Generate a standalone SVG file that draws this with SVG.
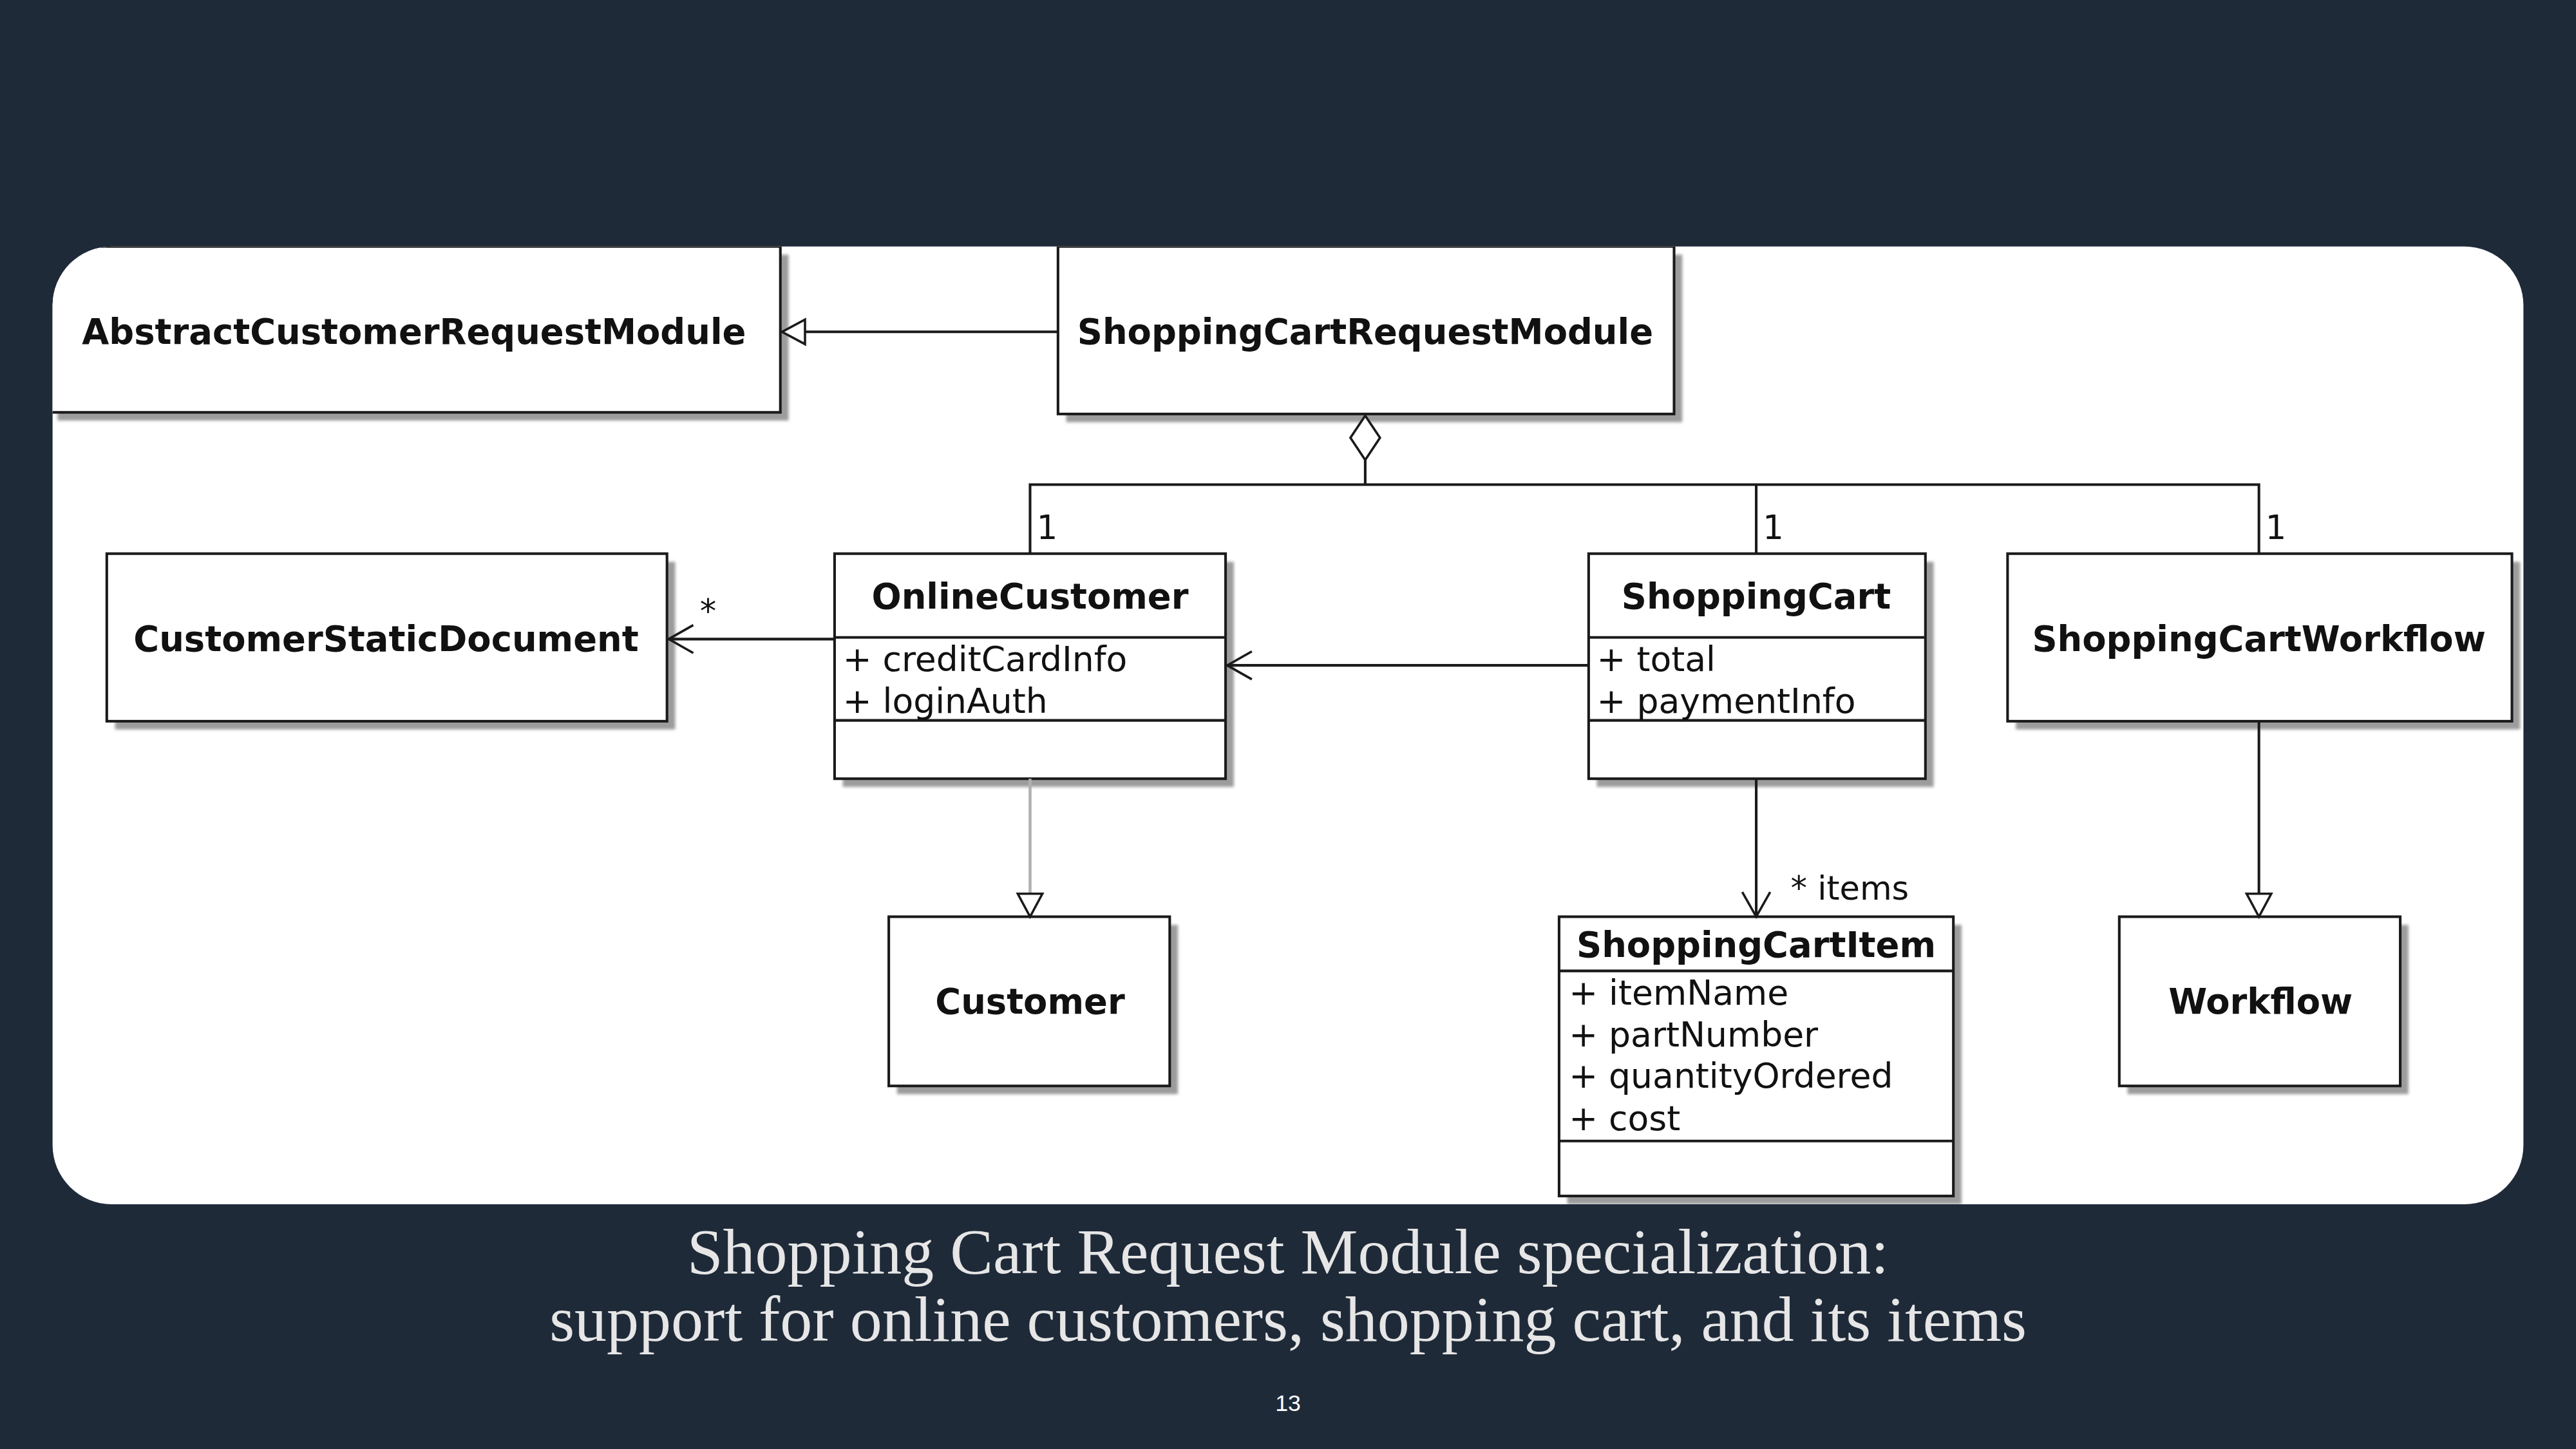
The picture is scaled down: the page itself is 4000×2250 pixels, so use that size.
<svg xmlns="http://www.w3.org/2000/svg" width="4000" height="2250" viewBox="0 0 4000 2250">
<defs>
<style>
.box{fill:#fff;stroke:#1a1a1a;stroke-width:1.6}
.div{stroke:#1a1a1a;stroke-width:1.6;fill:none}
.shadow{fill:#9c9c9c;filter:url(#blur)}
.title{font-family:"DejaVu Sans",sans-serif;font-weight:bold;font-size:21.3px;fill:#111;text-anchor:middle}
.attr{font-family:"DejaVu Sans",sans-serif;font-size:21px;fill:#111}
.lbl{font-family:"DejaVu Sans",sans-serif;font-size:20px;fill:#111}
.conn{stroke:#1a1a1a;stroke-width:1.6;fill:none}
.connLight{stroke:#b0b0b0;stroke-width:1.8;fill:none}
.head{stroke:#1a1a1a;stroke-width:1.4;fill:#fff}
.open{stroke:#1a1a1a;stroke-width:1.4;fill:none}
.cap{font-family:"Liberation Serif","Times New Roman",serif;font-size:39.2px;fill:#e6e6e6;text-anchor:middle}
.pg{font-family:"Liberation Sans",Arial,sans-serif;font-size:14px;fill:#ffffff;text-anchor:middle}
</style>
<filter id="blur" x="-5%" y="-5%" width="110%" height="110%"><feGaussianBlur stdDeviation="0.8"/></filter>
<clipPath id="panelClip"><rect x="32" y="150" width="1504" height="583" rx="36" ry="36"/></clipPath>
</defs>
<rect x="0" y="0" width="4000" height="2250" fill="#1f2a39"/>
<g transform="scale(2.55102)">
<rect x="32" y="150" width="1504" height="583" rx="36" ry="36" fill="#ffffff"/>
<g clip-path="url(#panelClip)">
<g id="AbstractCustomerRequestModule">
<rect class="shadow" x="35" y="155" width="445" height="101"/>
<rect class="box" x="30" y="150" width="445" height="101"/>
<text class="title" x="252" y="209.5">AbstractCustomerRequestModule</text>
</g>
<g id="ShoppingCartRequestModule">
<rect class="shadow" x="649" y="155" width="375" height="102"/>
<rect class="box" x="644" y="150" width="375" height="102"/>
<text class="title" x="831" y="209.5">ShoppingCartRequestModule</text>
</g>
<g id="CustomerStaticDocument">
<rect class="shadow" x="70" y="342" width="341" height="102"/>
<rect class="box" x="65" y="337" width="341" height="102"/>
<text class="title" x="235" y="396.5">CustomerStaticDocument</text>
</g>
<g id="OnlineCustomer">
<rect class="shadow" x="513" y="342" width="238" height="137"/>
<rect class="box" x="508" y="337" width="238" height="137"/>
<line class="div" x1="508" y1="388" x2="746" y2="388"/>
<line class="div" x1="508" y1="438.5" x2="746" y2="438.5"/>
<text class="title" x="627" y="370.5">OnlineCustomer</text>
<text class="attr" x="513" y="408.5">+ creditCardInfo</text>
<text class="attr" x="513" y="434">+ loginAuth</text>
</g>
<g id="ShoppingCart">
<rect class="shadow" x="972" y="342" width="205" height="137"/>
<rect class="box" x="967" y="337" width="205" height="137"/>
<line class="div" x1="967" y1="388" x2="1172" y2="388"/>
<line class="div" x1="967" y1="438.5" x2="1172" y2="438.5"/>
<text class="title" x="1069" y="370.5">ShoppingCart</text>
<text class="attr" x="972" y="408.5">+ total</text>
<text class="attr" x="972" y="434">+ paymentInfo</text>
</g>
<g id="ShoppingCartWorkflow">
<rect class="shadow" x="1227" y="342" width="307" height="102"/>
<rect class="box" x="1222" y="337" width="307" height="102"/>
<text class="title" x="1375" y="396.5">ShoppingCartWorkflow</text>
</g>
<g id="Customer">
<rect class="shadow" x="546" y="563" width="171" height="103"/>
<rect class="box" x="541" y="558" width="171" height="103"/>
<text class="title" x="627" y="617">Customer</text>
</g>
<g id="ShoppingCartItem">
<rect class="shadow" x="954" y="563" width="240" height="170"/>
<rect class="box" x="949" y="558" width="240" height="170"/>
<line class="div" x1="949" y1="591" x2="1189" y2="591"/>
<line class="div" x1="949" y1="694.5" x2="1189" y2="694.5"/>
<text class="title" x="1069" y="582.5">ShoppingCartItem</text>
<text class="attr" x="955" y="611.5">+ itemName</text>
<text class="attr" x="955" y="637">+ partNumber</text>
<text class="attr" x="955" y="662">+ quantityOrdered</text>
<text class="attr" x="955" y="688">+ cost</text>
</g>
<g id="Workflow">
<rect class="shadow" x="1295" y="563" width="171" height="103"/>
<rect class="box" x="1290" y="558" width="171" height="103"/>
<text class="title" x="1376" y="617">Workflow</text>
</g>
<g id="connectors">
<line class="conn" x1="644" y1="202" x2="490" y2="202"/>
<polygon class="head" points="476,202 490,194.5 490,209.5"/>
<polygon class="head" points="831,253 840,266.5 831,280 822,266.5"/>
<line class="conn" x1="831" y1="280" x2="831" y2="295"/>
<polyline class="conn" points="627,337 627,295 1375,295 1375,337"/>
<line class="conn" x1="1069" y1="295" x2="1069" y2="337"/>
<text class="lbl" x="631" y="328">1</text>
<text class="lbl" x="1073" y="328">1</text>
<text class="lbl" x="1379" y="328">1</text>
<line class="conn" x1="508" y1="389" x2="407" y2="389"/>
<polyline class="open" points="422,380.5 407,389 422,397.5"/>
<text class="lbl" x="431" y="379" text-anchor="middle">*</text>
<line class="conn" x1="967" y1="405" x2="747" y2="405"/>
<polyline class="open" points="762,396.5 747,405 762,413.5"/>
<line class="connLight" x1="627" y1="474" x2="627" y2="544"/>
<polygon class="head" points="627,558 619.5,544 634.5,544"/>
<line class="conn" x1="1069" y1="474" x2="1069" y2="558"/>
<polyline class="open" points="1060.5,543 1069,558 1077.5,543"/>
<text class="lbl" x="1090" y="547.5">* items</text>
<line class="conn" x1="1375" y1="439" x2="1375" y2="544"/>
<polygon class="head" points="1375,558 1367.5,544 1382.5,544"/>
</g>
</g>
<text class="cap" x="784" y="775">Shopping Cart Request Module specialization:</text>
<text class="cap" x="784" y="816">support for online customers, shopping cart, and its items</text>
<text class="pg" x="784" y="859">13</text>
</g>
</svg>
